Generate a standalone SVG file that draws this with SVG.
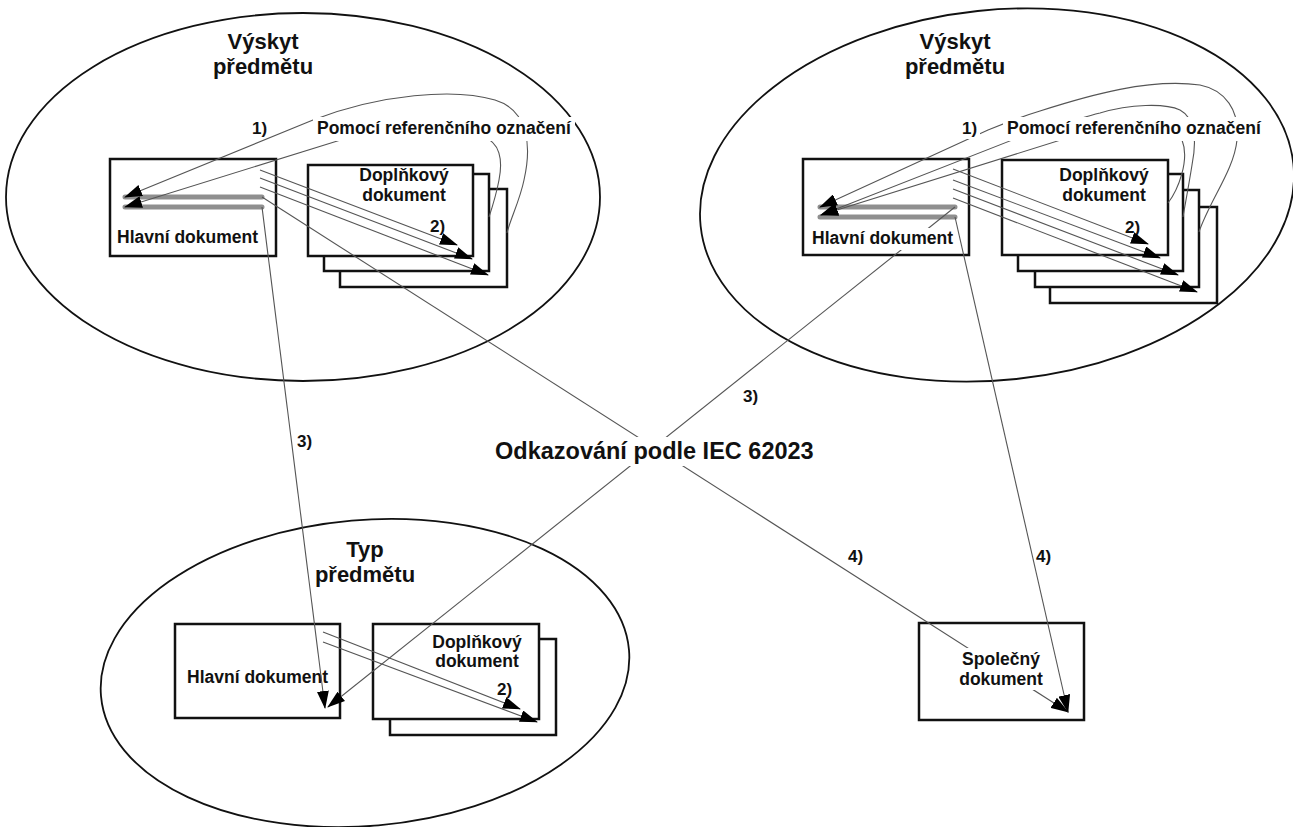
<svg xmlns="http://www.w3.org/2000/svg" width="1293" height="827" viewBox="0 0 1293 827">
<defs>
<style>
.ell{fill:none;stroke:#111;stroke-width:1.8}
.box{fill:#fff;stroke:#111;stroke-width:2.5}
.gray{stroke:#8f8f8f;stroke-width:5;stroke-linecap:round;fill:none}
.ln{fill:none;stroke:#555;stroke-width:1.1;marker-end:url(#ah)}
.t{font-family:"Liberation Sans",Arial,sans-serif;font-weight:bold;fill:#111}
.h{font-size:22px;text-anchor:middle}
.b{font-size:17.5px}
.m{text-anchor:middle}
.n{font-size:17px}
.c{font-size:23.5px}
.bg{fill:#fff}
</style>
<marker id="ah" markerUnits="userSpaceOnUse" markerWidth="18" markerHeight="12" refX="17" refY="6" orient="auto"><path d="M0,0 L18,6 L0,12 z" fill="#000"/></marker>
</defs>
<rect width="1293" height="827" fill="#fff"/>

<g id="scope-occurrence-left">
<ellipse class="ell" cx="303" cy="197" rx="297" ry="184"/>
<text class="t h" x="263" y="49">Výskyt</text>
<text class="t h" x="263" y="74">předmětu</text>
</g>
<g id="scope-occurrence-right">
<ellipse class="ell" cx="997" cy="195" rx="298" ry="185" transform="rotate(-6 997 195)"/>
<text class="t h" x="955" y="49">Výskyt</text>
<text class="t h" x="955" y="74">předmětu</text>
</g>
<g id="scope-type">
<ellipse class="ell" cx="365" cy="673" rx="265" ry="153" transform="rotate(-5 365 673)"/>
<text class="t h" x="365" y="557">Typ</text>
<text class="t h" x="365" y="582">předmětu</text>
</g>

<g id="main-doc-left">
<rect class="box" x="110" y="159" width="166" height="97"/>
<path class="gray" d="M125,197 H262 M125,207 H262"/>
<text class="t b" x="117" y="243">Hlavní dokument</text>
</g>
<g id="supp-doc-left">
<rect class="box" x="340" y="189" width="167" height="98"/>
<rect class="box" x="324" y="174" width="165" height="97"/>
<rect class="box" x="308" y="165" width="165" height="91"/>
<text class="t b m" x="404" y="181">Doplňkový</text>
<text class="t b m" x="404" y="201">dokument</text>
<text class="t n" x="430" y="232">2)</text>
</g>

<g id="main-doc-right">
<rect class="box" x="803" y="159" width="166" height="96"/>
<path class="gray" d="M820,207 H955 M820,217 H955"/>
</g>
<g id="supp-doc-right">
<rect class="box" x="1050" y="207" width="167" height="96"/>
<rect class="box" x="1035" y="190" width="164" height="97"/>
<rect class="box" x="1018" y="174" width="165" height="97"/>
<rect class="box" x="1002" y="160" width="166" height="95"/>
<text class="t b m" x="1104" y="181">Doplňkový</text>
<text class="t b m" x="1104" y="201">dokument</text>
<text class="t n" x="1125" y="233">2)</text>
</g>

<g id="main-doc-type">
<rect class="box" x="175" y="624" width="165" height="94"/>
<text class="t b" x="187" y="683">Hlavní dokument</text>
</g>
<g id="supp-doc-type">
<rect class="box" x="390" y="639" width="166" height="96"/>
<rect class="box" x="373" y="624" width="166" height="95"/>
<text class="t b m" x="477" y="648">Doplňkový</text>
<text class="t b m" x="477" y="667">dokument</text>
<text class="t n" x="497" y="695">2)</text>
</g>

<g id="common-doc">
<rect class="box" x="919" y="623" width="165" height="97"/>
</g>

<g id="connectors">
<path class="ln" d="M260,170 L457,245"/>
<path class="ln" d="M260,178 L472,259"/>
<path class="ln" d="M260,187 L488,275"/>
<path class="ln" d="M507,233 C510,220 520,200 524,180 C532,145 528,110 495,100 C455,88 380,94 313,120 L125,197"/>
<path class="ln" d="M489,217 C492,208 496,196 499,180 C503,160 500,142 483,137 L347,138 L125,207"/>
<path class="ln" d="M953,169 L1148,244"/>
<path class="ln" d="M953,180 L1160,258"/>
<path class="ln" d="M953,189 L1178,275"/>
<path class="ln" d="M953,198 L1197,292"/>
<path class="ln" d="M1199,232 C1210,200 1234,170 1237,140 C1240,110 1225,90 1200,85 C1150,78 1090,95 1040,111 C1020,117 1005,123 988,130 L820,207"/>
<path class="ln" d="M1183,217 C1185,205 1188,190 1192,165 C1197,140 1195,118 1180,110 C1165,103 1130,104 1100,113 C1075,119 1050,128 1020,137 L821,215"/>
<path class="ln" d="M1168,203 C1178,190 1190,160 1182,140 L1067,138 L821,215"/>
<path class="ln" d="M323,632 L520,709"/>
<path class="ln" d="M323,642 L537,722"/>
<path class="ln" d="M262,207 L325,708"/>
<path class="ln" d="M955,207 L328,707"/>
<path class="ln" d="M262,197 L1068,712"/>
<path class="ln" d="M955,217 L1068,712"/>
</g>

<g id="label-ref-left">
<rect class="bg" x="313" y="117" width="262" height="24"/>
<text class="t b" x="317" y="134">Pomocí referenčního označení</text>
<text class="t n" x="252" y="134">1)</text>
</g>
<g id="label-ref-right">
<rect class="bg" x="960" y="118" width="20" height="21"/>
<rect class="bg" x="1003" y="117" width="262" height="24"/>
<text class="t n" x="962" y="134">1)</text>
<text class="t b" x="1007" y="134">Pomocí referenčního označení</text>
</g>
<g id="main-doc-right-label">
<rect class="bg" x="808" y="228" width="147" height="22"/>
<text class="t b" x="812" y="244">Hlavní dokument</text>
</g>
<g id="common-doc-label">
<rect class="bg" x="957" y="648" width="89" height="42"/>
<text class="t b m" x="1001" y="665">Společný</text>
<text class="t b m" x="1001" y="685">dokument</text>
</g>
<g id="label-center">
<rect class="bg" x="490" y="437" width="330" height="29"/>
<text class="t c" x="495" y="459">Odkazování podle IEC 62023</text>
</g>
<g id="labels-numbers">
<text class="t n" x="297" y="447">3)</text>
<text class="t n" x="743" y="402">3)</text>
<text class="t n" x="848" y="562">4)</text>
<text class="t n" x="1036" y="562">4)</text>
</g>
</svg>
